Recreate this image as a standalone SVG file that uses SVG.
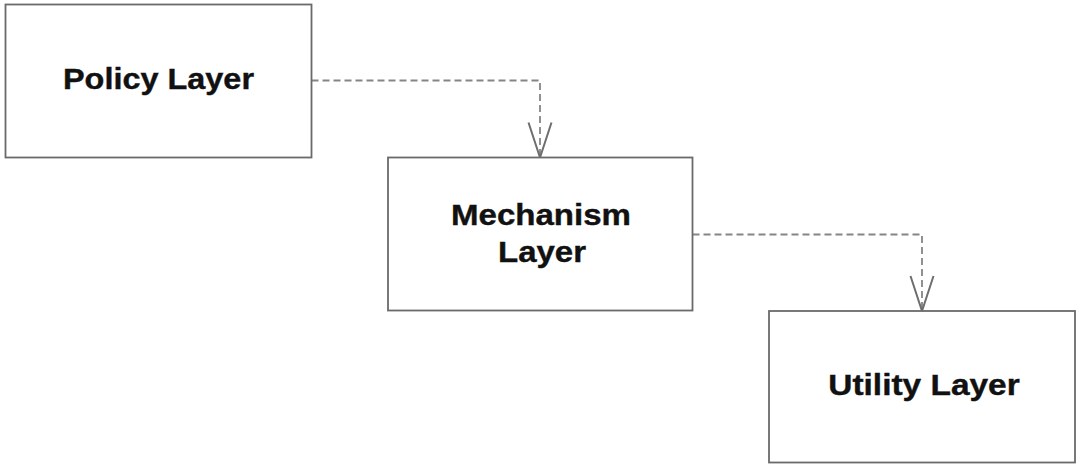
<svg xmlns="http://www.w3.org/2000/svg" width="1081" height="468" viewBox="0 0 1081 468">
  <style>
    .box { fill: #ffffff; stroke: #6a6a6a; stroke-width: 1.8; }
    .lbl { font-family: "Liberation Sans", Arial, Helvetica, sans-serif; font-weight: bold; font-size: 30px; fill: #111111; stroke: #111111; stroke-width: 0.4; text-anchor: middle; }
    .dep { fill: none; stroke: #858585; stroke-width: 1.8; stroke-dasharray: 7 4; }
  </style>
  <defs>
    <marker id="openArrow" markerUnits="userSpaceOnUse" viewBox="-40 -15 42 30" refX="0" refY="0" markerWidth="42" markerHeight="30" orient="auto" overflow="visible">
      <path d="M-35,-11.5 L0,0 L-35,11.5" fill="none" stroke="#6e6e6e" stroke-width="2"/>
    </marker>
  </defs>
  <rect width="1081" height="468" fill="#ffffff"/>
  <g id="connectors">
    <path class="dep" d="M311.5,80.5 H540 V157.5" marker-end="url(#openArrow)"/>
    <path class="dep" d="M692.5,234.5 H922 V311" marker-end="url(#openArrow)"/>
  </g>
  <g id="policy-layer">
    <rect class="box" x="5.5" y="4.5" width="306" height="153"/>
    <text class="lbl" x="158.5" y="89" textLength="191" lengthAdjust="spacingAndGlyphs">Policy Layer</text>
  </g>
  <g id="mechanism-layer">
    <rect class="box" x="388" y="157.5" width="304.5" height="153"/>
    <text class="lbl" x="541" y="224.5" textLength="180" lengthAdjust="spacingAndGlyphs">Mechanism</text>
    <text class="lbl" x="542" y="261.5" textLength="88" lengthAdjust="spacingAndGlyphs">Layer</text>
  </g>
  <g id="utility-layer">
    <rect class="box" x="769" y="311" width="306" height="151.5"/>
    <text class="lbl" x="924" y="395" textLength="191.5" lengthAdjust="spacingAndGlyphs">Utility Layer</text>
  </g>
</svg>
